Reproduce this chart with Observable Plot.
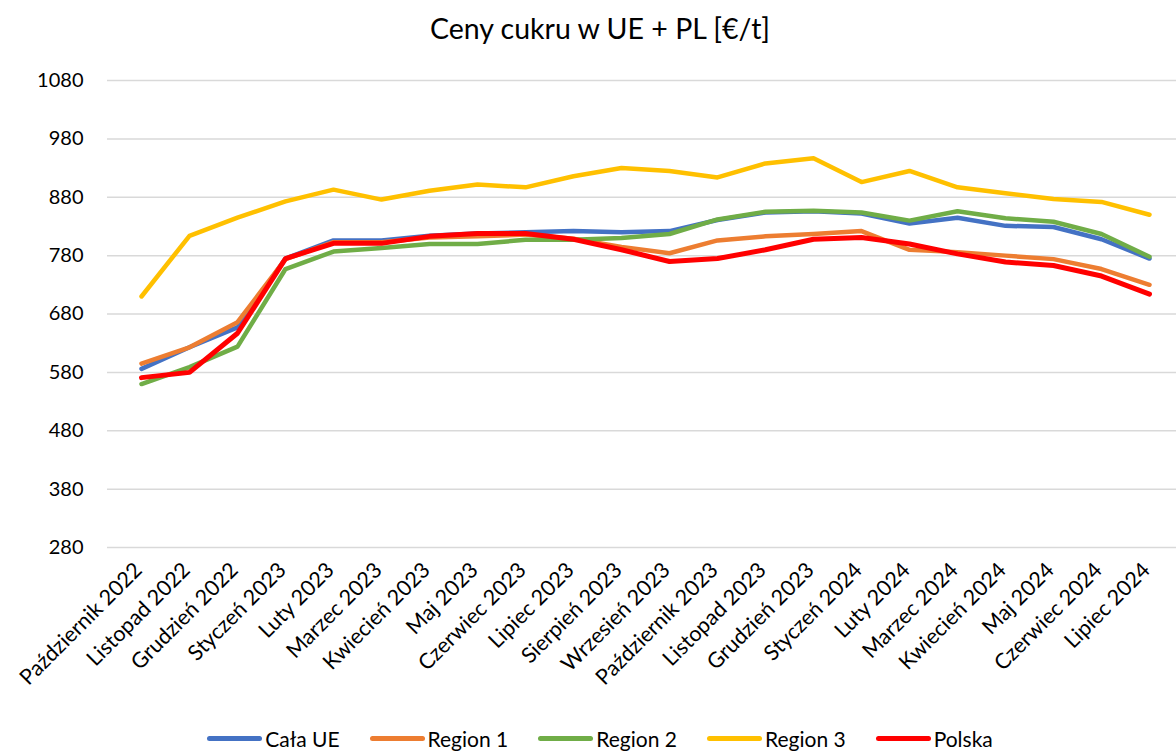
<!DOCTYPE html>
<html>
<head>
<meta charset="utf-8">
<script src="https://cdn.jsdelivr.net/npm/d3@7"></script>
<script src="https://cdn.jsdelivr.net/npm/@observablehq/plot@0.6"></script>
<style>
  html, body { margin: 0; padding: 0; background: #fff; overflow: hidden; }
  #wrap { position: relative; width: 1176px; height: 751px; font-family: Lato, "Open Sans", sans-serif; }
  #title { position: absolute; left: 0; width: 1200px; top: 11px; text-align: center; font-size: 28.5px; color: #000; }
  #legend { position: absolute; left: 0; width: 1200px; top: 726px; display: flex; justify-content: center; gap: 30px; font-size: 21px; color: #000; }
  .item { display: flex; align-items: center; }
  .sw { width: 55px; height: 5px; border-radius: 3px; margin-right: 3px; }
  #chart { position: absolute; left: 0; top: 0; }
</style>
</head>
<body>
<div id="wrap">
  <div id="chart"></div>
  <div id="title">Ceny cukru w UE + PL [€/t]</div>
  <div id="legend"></div>
</div>
<script>
const months = ["Październik 2022","Listopad 2022","Grudzień 2022","Styczeń 2023","Luty 2023","Marzec 2023","Kwiecień 2023","Maj 2023","Czerwiec 2023","Lipiec 2023","Sierpień 2023","Wrzesień 2023","Październik 2023","Listopad 2023","Grudzień 2023","Styczeń 2024","Luty 2024","Marzec 2024","Kwiecień 2024","Maj 2024","Czerwiec 2024","Lipiec 2024"];

const calaUE  = [586, 623, 657, 775, 806, 806, 814, 818, 820, 822, 820, 822, 841, 854, 856, 852, 835, 845, 831, 829, 808, 775];
const region1 = [595, 623, 666, 774, 803, 803, 811, 813, 816, 809, 795, 784, 806, 813, 817, 822, 790, 786, 780, 774, 757, 730];
const region2 = [560, 589, 624, 757, 787, 793, 800, 800, 807, 807, 810, 817, 842, 855, 857, 854, 840, 856, 844, 838, 817, 778];
const region3 = [710, 814, 845, 873, 893, 876, 891, 902, 897, 916, 930, 925, 914, 938, 947, 906, 925, 897, 887, 877, 872, 850];
const polska  = [571, 580, 647, 775, 801, 801, 813, 818, 818, 808, 790, 770, 775, 790, 808, 811, 800, 783, 769, 763, 745, 714];

const yTicks = [280, 380, 480, 580, 680, 780, 880, 980, 1080];

const seriesNames = ["Cała UE", "Region 1", "Region 2", "Region 3", "Polska"];
const seriesValues = [calaUE, region1, region2, region3, polska];
const seriesColors = ["#4472C4", "#ED7D31", "#70AD47", "#FFC000", "#FF0000"];
const seriesWidths = [4.5, 4.5, 4.5, 4.5, 5];

const lineMarks = seriesNames.map((name, k) => {
  const rows = months.map((m, i) => ({month: m, value: seriesValues[k][i]}));
  return Plot.line(rows, {x: "month", y: "value", stroke: seriesColors[k], strokeWidth: seriesWidths[k], strokeLinejoin: "round", strokeLinecap: "round"});
});

const chart = Plot.plot({
  width: 1176,
  height: 715,
  marginLeft: 107,
  marginRight: 0,
  marginTop: 80,
  marginBottom: 168,
  style: {fontFamily: "Lato, 'Open Sans', sans-serif", fontSize: "20px", color: "#000", background: "#fff"},
  x: {type: "point", domain: months, range: [131, 1159], padding: 0, label: null},
  y: {domain: [280, 1080], label: null},
  marks: [
    Plot.gridY(yTicks, {stroke: "#d9d9d9", strokeOpacity: 1, strokeWidth: 1.5}),
    Plot.axisY(yTicks, {tickSize: 0, tickPadding: 24, label: null, fill: "#000", tickFormat: d => String(d)}),
    Plot.axisX({tickRotate: -45, tickSize: 0, tickPadding: 19, dx: -3, label: null, fill: "#000", fontSize: 21.5}),
    ...lineMarks
  ]
});
document.getElementById("chart").appendChild(chart);

const legend = document.getElementById("legend");
seriesNames.forEach((name, k) => {
  const item = document.createElement("div");
  item.className = "item";
  const sw = document.createElement("div");
  sw.className = "sw";
  sw.style.background = seriesColors[k];
  const t = document.createElement("span");
  t.textContent = name;
  item.appendChild(sw);
  item.appendChild(t);
  legend.appendChild(item);
});
</script>
</body>
</html>
